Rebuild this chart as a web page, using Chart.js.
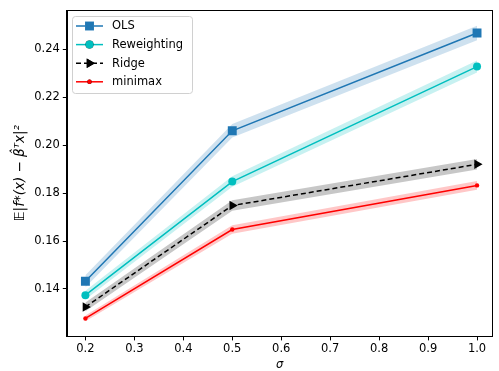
<!DOCTYPE html>
<html>
<head>
<meta charset="utf-8">
<script src="https://cdn.jsdelivr.net/npm/chart.js@4/dist/chart.umd.min.js"></script>
<style>
  body { margin: 0; background: #fff; }
  #wrap { width: 499px; height: 371px; }
</style>
</head>
<body>
<div id="wrap"><canvas id="grafica"></canvas></div>
<script>
// sigma values and mean error per method
const sigmas = [0.2, 0.5, 1.0];
const olsVals = [0.1432, 0.2060, 0.2468];
const reweightVals = [0.1374, 0.1848, 0.2328];
const ridgeVals = [0.1325, 0.1748, 0.1920];
const minimaxVals = [0.1277, 0.1648, 0.1832];
// half width of the shaded band
const olsErr = [0.0025, 0.0028, 0.0030];
const reweightErr = [0.0018, 0.0022, 0.0025];
const ridgeErr = [0.0018, 0.0022, 0.0022];
const minimaxErr = [0.0012, 0.0018, 0.0018];
const xTicks = [0.2, 0.3, 0.4, 0.5, 0.6, 0.7, 0.8, 0.9, 1.0];
const yTicks = [0.14, 0.16, 0.18, 0.20, 0.22, 0.24];

const FONT = 'DejaVu Sans';
const FS = 11.5;

const series = [
    { label: 'OLS', vals: olsVals, err: olsErr, color: '#1f77b4', band: 'rgba(31,119,180,0.22)', style: 'rect', radius: 6.3, dash: [], rot: 0 },
    { label: 'Reweighting', vals: reweightVals, err: reweightErr, color: '#00bfbf', band: 'rgba(0,191,191,0.22)', style: 'circle', radius: 4, dash: [], rot: 0 },
    { label: 'Ridge', vals: ridgeVals, err: ridgeErr, color: '#000000', band: 'rgba(0,0,0,0.22)', style: 'triangle', radius: 5.5, dash: [5, 3], rot: 90 },
    { label: 'minimax', vals: minimaxVals, err: minimaxErr, color: '#ff0000', band: 'rgba(255,0,0,0.22)', style: 'circle', radius: 2.2, dash: [], rot: 0 }
];

const pts = (vals, off) => sigmas.map((s, i) => ({ x: s, y: vals[i] + (off ? off[i] : 0) }));

let datasets = [];
series.forEach(s => {
    datasets.push({
        data: pts(s.vals, s.err), borderWidth: 0, pointRadius: 0,
        backgroundColor: s.band, fill: '+1', order: 10
    });
    datasets.push({
        data: pts(s.vals, s.err.map(e => -e)), borderWidth: 0, pointRadius: 0,
        backgroundColor: s.band, fill: false, order: 10
    });
});
series.forEach((s, k) => {
    datasets.push({
        label: s.label, data: pts(s.vals), borderColor: s.color, backgroundColor: s.color,
        borderWidth: 1.5, borderDash: s.dash, pointStyle: s.style, pointRadius: s.radius,
        pointRotation: s.rot, pointBorderWidth: 0, fill: false, order: 4 - k
    });
});

// box around plot + legend inside axes
const boxPlugin = {
    id: 'boxPlugin',
    afterDraw(chart) {
        const c = chart.ctx, a = chart.chartArea;
        c.save();
        c.strokeStyle = '#000';
        c.lineWidth = 1;
        c.strokeRect(Math.round(a.left) + 0.5, Math.round(a.top) + 0.5, Math.round(a.right - a.left) - 1, Math.round(a.bottom - a.top));
        // legend
        const lx = 72, ly = 16, lw = 120, lh = 77;
        c.fillStyle = 'rgba(255,255,255,0.85)';
        c.strokeStyle = '#d0d0d0';
        c.beginPath();
        c.roundRect(lx + 0.5, ly + 0.5, lw, lh, 3);
        c.fill();
        c.stroke();
        series.forEach((s, i) => {
            const y = 26 + i * 18.6;
            c.strokeStyle = s.color;
            c.lineWidth = 1.5;
            c.setLineDash(s.dash);
            c.beginPath();
            c.moveTo(76, y);
            c.lineTo(103, y);
            c.stroke();
            c.setLineDash([]);
            Chart.helpers.drawPoint(c, { pointStyle: s.style, radius: s.radius, rotation: s.rot, borderWidth: 0 }, 89.5, y);
            c.fillStyle = s.color;
            c.fill();
            c.fillStyle = '#000';
            c.font = FS + 'px "' + FONT + '"';
            c.textBaseline = 'middle';
            c.fillText(s.label, 112, y + 0.5);
        });
        c.restore();
    }
};

new Chart(document.getElementById('grafica').getContext('2d'), {
    type: 'line',
    data: { datasets: datasets },
    options: {
        responsive: true,
        maintainAspectRatio: false,
        animation: false,
        layout: { padding: { top: 10, right: 1, left: 12, bottom: 0 } },
        plugins: {
            legend: { display: false },
            tooltip: { enabled: false },
            filler: { propagate: false }
        },
        scales: {
            x: {
                type: 'linear', min: 0.162, max: 1.032,
                afterBuildTicks: ax => { ax.ticks = xTicks.map(v => ({ value: v })); },
                ticks: { callback: v => v.toFixed(1), color: '#000', font: { family: FONT, size: FS }, padding: 2, maxRotation: 0 },
                grid: { drawOnChartArea: false, drawTicks: true, tickLength: 4, color: '#000' },
                border: { display: true, color: '#000' },
                title: { display: true, text: 'σ', color: '#000', font: { family: FONT, size: FS, style: 'italic' }, padding: { top: 0, bottom: -1 } }
            },
            y: {
                type: 'linear', min: 0.1202, max: 0.2564,
                afterBuildTicks: ax => { ax.ticks = yTicks.map(v => ({ value: v })); },
                ticks: { callback: v => v.toFixed(2), color: '#000', font: { family: FONT, size: FS }, padding: 3 },
                grid: { drawOnChartArea: false, drawTicks: true, tickLength: 4, color: '#000' },
                border: { display: true, color: '#000' },
                title: { display: true, text: '𝔼|f*(x) − β̂ᵀx|²', color: '#000', font: { family: FONT, size: 13.5, style: 'italic' }, padding: { top: 0, bottom: 3 } }
            }
        }
    },
    plugins: [boxPlugin]
});
</script>
</body>
</html>
